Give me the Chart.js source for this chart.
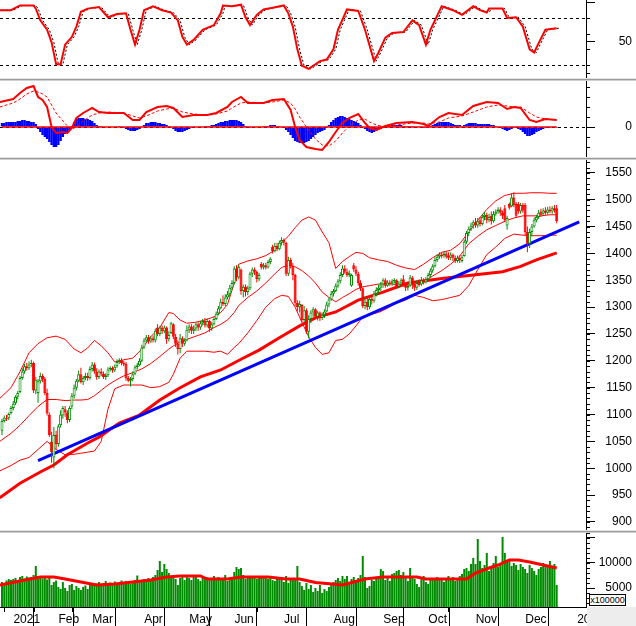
<!DOCTYPE html>
<html>
<head>
<meta charset="utf-8">
<script src="https://cdn.jsdelivr.net/npm/chart.js@4.4.0/dist/chart.umd.min.js"></script>
<style>
  body { margin: 0; background: #fff; }
  #wrap { position: relative; width: 636px; height: 626px; overflow: hidden; background: #fff; }
  canvas { position: absolute; left: 0; }
  .sep { position: absolute; left: 0; width: 636px; height: 3px;
    background: linear-gradient(#e4e4e4 0 1px, #9a9a9a 1px 2px, #d0d0d0 2px 3px); }
  #corner { position: absolute; left: 587px; top: 607px; width: 49px; height: 19px; background: #ededed; }
  #unit { position: absolute; left: 589px; top: 594px; width: 35px; height: 10px; border: 1px solid #000;
    background: #fff; font: 9px "Liberation Sans", Arial, sans-serif; line-height: 10px; text-align: center; }
</style>
</head>
<body>
<div id="wrap">
  <canvas id="stoch" width="636" height="78" style="top:0"></canvas>
  <canvas id="macd" width="636" height="76" style="top:81px"></canvas>
  <canvas id="price" width="636" height="370" style="top:160px"></canvas>
  <canvas id="vol" width="636" height="93" style="top:533px"></canvas>
  <div class="sep" style="top:78px"></div>
  <div class="sep" style="top:157px"></div>
  <div class="sep" style="top:530px"></div>
  <div id="unit">x100000</div>
  <div id="corner"></div>
</div>
<script>
// bar index 0 = first session of 2021, first bar in the data is index -4
const firstBar = -4;

const opens = [1070,1088,1094,1093,
  1103,1112,1121,1133,1142,1168,1180,1190,1186,1194,
  1196,1145,1140,1162,1172,1166,1140,1100,1050,1020,
  1062,1045,1080,1098,1110,1104,1090,1115,1135,1150,
  1163,1175,1160,1168,1172,1168,1185,1193,1180,1170,
  1180,1176,1170,1173,1184,1187,1182,1190,1198,1201,
  1196,1194,1168,1163,1166,1176,1188,1192,1200,1225,
  1238,1244,1236,1242,1238,1262,1250,1262,1255,1262,
  1240,1252,1268,1245,1232,1222,1242,1232,1238,1258,
  1264,1256,1260,1268,1262,1270,1274,1266,1274,1260,
  1268,1278,1288,1298,1310,1306,1318,1324,1336,1345,
  1372,1355,1370,1330,1338,1328,1335,1362,1370,1366,
  1352,1381,1374,1378,1374,1384,1412,1404,1414,1408,
  1420,1425,1420,1362,1388,1376,1360,1308,1300,1304,
  1276,1294,1254,1278,1290,1296,1282,1290,1280,1286,
  1292,1305,1314,1325,1330,1340,1348,1360,1372,1366,
  1360,1340,1378,1370,1362,1345,1335,1302,1310,1300,
  1315,1312,1325,1332,1336,1342,1350,1340,1346,1344,
  1348,1350,1338,1344,1352,1342,1336,1340,1355,1342,
  1336,1345,1342,1350,1346,1352,1360,1368,1376,1388,
  1394,1398,1396,1400,1396,1392,1398,1392,1386,1392,
  1386,1395,1422,1438,1446,1452,1458,1452,1462,1455,
  1468,1472,1462,1470,1460,1474,1478,1482,1476,1484,
  1452,1492,1488,1504,1492,1492,1478,1490,1490,1440,
  1418,1440,1450,1462,1468,1478,1474,1480,1476,1482,
  1478,1484,1484];
const closes = [1088,1094,1092,1101,
  1112,1120,1133,1140,1168,1180,1190,1186,1193,1196,
  1145,1165,1162,1172,1166,1140,1102,1062,1030,1062,
  1045,1078,1100,1112,1104,1090,1112,1135,1150,1163,
  1175,1160,1168,1172,1168,1185,1193,1180,1170,1180,
  1176,1170,1173,1184,1187,1182,1189,1198,1201,1196,
  1193,1168,1163,1166,1175,1188,1192,1200,1225,1238,
  1244,1236,1242,1239,1256,1250,1262,1255,1262,1240,
  1248,1270,1245,1232,1222,1242,1232,1238,1258,1264,
  1256,1260,1268,1262,1270,1274,1266,1274,1260,1268,
  1278,1288,1298,1310,1306,1318,1324,1336,1345,1372,
  1355,1375,1330,1338,1328,1335,1362,1370,1366,1352,
  1360,1374,1378,1374,1384,1390,1404,1414,1408,1420,
  1425,1420,1362,1388,1376,1360,1308,1300,1306,1276,
  1294,1254,1278,1290,1296,1282,1290,1280,1286,1292,
  1305,1314,1325,1330,1340,1348,1360,1372,1366,1360,
  1364,1360,1370,1362,1345,1335,1302,1310,1300,1315,
  1312,1325,1332,1336,1342,1350,1340,1346,1343,1348,
  1351,1338,1344,1350,1342,1336,1340,1355,1342,1336,
  1345,1341,1350,1346,1352,1360,1368,1376,1388,1394,
  1398,1395,1400,1394,1392,1398,1392,1386,1392,1388,
  1393,1422,1438,1446,1452,1458,1452,1460,1455,1468,
  1472,1462,1468,1460,1474,1478,1482,1476,1470,1462,
  1466,1485,1504,1490,1470,1478,1490,1480,1440,1418,
  1440,1450,1462,1468,1476,1472,1480,1476,1482,1478,
  1484,1480,1460];
const highs = [1092,1098,1099,1104,
  1116,1125,1136,1144,1172,1186,1194,1196,1199,1202,
  1199,1170,1166,1178,1176,1170,1148,1104,1068,1077,
  1070,1082,1108,1116,1116,1108,1116,1140,1156,1166,
  1182,1187,1172,1178,1178,1190,1198,1197,1186,1184,
  1186,1180,1177,1188,1190,1190,1193,1203,1205,1205,
  1200,1198,1172,1170,1180,1192,1196,1205,1230,1242,
  1248,1248,1246,1247,1260,1268,1265,1266,1266,1264,
  1255,1273,1270,1250,1238,1250,1246,1242,1266,1268,
  1268,1266,1272,1272,1274,1278,1280,1279,1276,1272,
  1282,1292,1302,1316,1322,1324,1330,1341,1350,1376,
  1378,1379,1372,1342,1342,1340,1366,1374,1374,1368,
  1364,1384,1382,1382,1388,1393,1416,1420,1420,1424,
  1430,1428,1422,1394,1392,1382,1362,1313,1312,1306,
  1302,1298,1285,1294,1300,1298,1293,1292,1290,1296,
  1310,1318,1330,1334,1344,1352,1365,1378,1378,1372,
  1368,1362,1382,1376,1366,1350,1337,1320,1318,1322,
  1322,1330,1337,1342,1347,1354,1354,1350,1350,1352,
  1354,1352,1348,1354,1360,1346,1347,1360,1358,1346,
  1350,1352,1356,1354,1356,1364,1372,1380,1393,1398,
  1402,1402,1404,1404,1402,1402,1400,1396,1396,1396,
  1397,1426,1442,1450,1457,1462,1466,1466,1468,1473,
  1477,1476,1474,1478,1479,1482,1486,1486,1480,1490,
  1470,1495,1512,1514,1496,1496,1494,1494,1494,1450,
  1446,1455,1467,1472,1481,1483,1484,1486,1487,1488,
  1488,1490,1490];
const lows = [1062,1085,1088,1090,
  1100,1108,1118,1128,1140,1165,1176,1182,1183,1188,
  1140,1138,1122,1158,1160,1136,1098,1058,1010,1000,
  1035,1040,1076,1092,1096,1084,1086,1110,1130,1145,
  1160,1158,1155,1164,1163,1165,1180,1176,1165,1166,
  1172,1166,1165,1170,1180,1178,1179,1187,1194,1192,
  1190,1163,1160,1152,1162,1173,1184,1190,1198,1222,
  1235,1232,1233,1234,1234,1246,1246,1250,1252,1232,
  1236,1250,1240,1226,1212,1214,1226,1228,1236,1252,
  1250,1250,1255,1256,1258,1266,1262,1262,1254,1256,
  1266,1276,1285,1296,1302,1302,1314,1320,1332,1342,
  1348,1352,1323,1318,1320,1322,1332,1356,1360,1346,
  1348,1370,1370,1370,1372,1380,1400,1402,1404,1406,
  1415,1415,1358,1358,1372,1350,1302,1292,1290,1272,
  1272,1250,1242,1270,1282,1278,1275,1274,1276,1280,
  1290,1300,1312,1320,1328,1336,1344,1356,1362,1356,
  1356,1338,1366,1358,1340,1330,1298,1296,1294,1296,
  1305,1308,1320,1326,1330,1336,1336,1338,1340,1340,
  1344,1334,1335,1340,1338,1330,1331,1338,1334,1330,
  1332,1338,1340,1342,1344,1350,1356,1364,1374,1384,
  1390,1391,1392,1390,1388,1388,1386,1382,1383,1382,
  1383,1394,1418,1432,1442,1446,1448,1448,1450,1452,
  1462,1456,1458,1454,1457,1470,1474,1470,1464,1458,
  1444,1482,1486,1486,1466,1474,1474,1476,1434,1402,
  1410,1432,1448,1458,1464,1468,1470,1472,1472,1475,
  1474,1476,1456];

// volume, unit x100000
const volumes = [6200,5800,6500,6800,
  6600,6800,7000,6500,7200,7400,6900,7300,7100,7200,7600,9400,6800,7300,6900,7300,6700,7200,5600,6200,
  6500,5200,4800,6200,5000,4400,5600,5800,4600,5400,5000,4600,5200,5500,4800,
  5800,6000,5500,5900,6200,5600,6000,6400,5800,6100,5700,6300,6000,6200,6500,5900,6400,6100,5800,6300,6600,7500,6200,
  6400,6800,6600,7000,6800,7200,7600,8600,10400,8200,9800,8800,8000,7400,7200,6800,5600,7000,7600,6600,
  7400,7000,6600,7200,7600,6800,6400,7000,6800,7200,6600,7000,7400,6800,7200,6600,7000,7600,6400,7000,
  7200,8200,9200,8800,9000,7600,6800,7200,7000,7400,7200,6800,7000,7400,7200,7000,6800,7200,6600,6400,7000,6800,
  6800,6200,7400,6000,6800,6600,7000,9400,6200,5400,4600,6000,4800,5600,4200,5000,4400,5600,4000,4800,4400,5200,
  5800,6200,6600,7000,6400,7400,6800,7400,6000,6800,7200,6400,7000,7600,11400,7200,5000,5400,6600,6400,7000,7400,
  8800,8400,6600,7000,6400,7800,8000,8400,8600,7600,8200,7000,6400,9000,7400,6800,5800,5200,7000,7400,
  6200,5800,6600,7000,6800,7200,7000,6600,6200,6800,7400,6600,7200,6400,6800,7400,7800,8800,9000,8400,9800,
  11000,9800,14800,10400,9000,9600,12000,8400,9400,10000,11400,9200,9800,15200,12000,10400,10800,9400,10000,9600,8600,9800,
  9200,8800,8000,9600,9000,8400,7600,8800,9200,10000,9400,9200,10400,9000,9800,5600];
const volMaIdx = [-5,4,13,19,24,31,38,46,54,62,69,75,84,87,96,102,114,122,128,135,147,157,165,180,184,202,206,212,216,221,225,230,236,242];
const volMaVals = [5600,6400,7200,7200,6800,6200,5600,5800,6200,6600,7200,7400,7400,6800,6800,7200,7200,6800,6800,6100,5600,6800,7200,7200,6800,6800,8000,9000,9600,10600,10600,10200,9600,9000];

// Bollinger bands
const bbIdx = [-5,0,4,8,12,16,20,24,28,31,34,37,40,43,46,50,54,58,62,66,70,72,75,78,82,86,90,93,96,99,
  101,105,109,113,117,120,123,126,129,132,135,138,141,144,147,150,153,156,159,163,
  167,171,175,179,183,187,191,195,199,203,207,211,215,219,223,227,231,235,239,242];
const bbUpper = [1130,1150,1180,1215,1232,1243,1246,1240,1222,1215,1224,1238,1228,1215,1198,1202,1205,1222,1245,1262,
  1290,1288,1276,1270,1272,1276,1282,1290,1305,1345,1380,1386,1390,1396,1406,1420,1432,1448,1462,1468,
  1462,1440,1420,1372,1385,1394,1402,1400,1392,1388,1385,1378,1373,1370,1380,1392,1402,1406,1418,1440,
  1462,1482,1498,1508,1512,1512,1513,1513,1512,1512];
const bbMid = [1050,1065,1080,1098,1115,1128,1128,1126,1127,1127,1128,1135,1145,1155,1163,1172,1178,1185,1195,1208,
  1222,1228,1235,1240,1246,1252,1262,1268,1276,1290,1303,1318,1330,1345,1362,1374,1378,1375,1368,1358,
  1345,1328,1318,1310,1318,1325,1333,1338,1340,1343,1344,1342,1341,1342,1348,1358,1368,1380,1395,1418,
  1432,1444,1452,1460,1466,1470,1470,1470,1472,1472];
const bbLower = [995,1005,1015,1020,1035,1050,1035,1025,1026,1028,1030,1032,1050,1110,1148,1155,1155,1155,1150,1152,
  1160,1175,1205,1218,1218,1218,1216,1218,1212,1225,1232,1252,1275,1300,1316,1322,1320,1300,1272,1245,
  1225,1212,1215,1238,1240,1250,1265,1282,1286,1290,1298,1308,1313,1322,1318,1312,1314,1318,1322,1340,
  1370,1398,1412,1428,1436,1434,1433,1433,1434,1434];

// long moving average and trend line
const maIdx = [-5,4,13,19,25,34,39,48,57,66,75,84,93,102,110,119,128,135,144,154,165,176,192,205,218,226,233,242];
const maVals = [945,972,993,1006,1025,1047,1058,1084,1099,1127,1150,1170,1183,1203,1220,1243,1265,1280,1291,1313,1328,1345,1354,1360,1366,1376,1388,1401];
const trendIdx = [12,252];
const trendVals = [1014,1459];

// stochastic %K and its signal
const kIdx = [-5,0,4,10,11,13,16,18,20,22,24,27,29,31,34,39,43,47,51,53,55,57,59,63,67,71,74,76,78,81,
  85,90,93,94,98,102,104,106,109,112,116,121,123,125,127,129,132,135,137,140,143,145,149,154,157,161,163,166,169,174,
  178,181,184,186,191,196,200,205,208,211,212,218,220,224,227,230,232,234,237,242];
const kVals = [90,90,96,96,92,77,65,49,21,21,46,56,69,88,92,94,81,85,86,65,46,65,90,95,90,87,77,56,46,52,
  65,71,86,96,95,97,81,71,84,91,93,96,86,69,40,19,15,21,25,27,40,65,91,89,65,25,36,55,61,62,
  77,71,46,65,95,90,84,95,90,87,92,92,80,81,69,40,36,48,65,67];
const dIdx = [-4,1,5,11,12,14,17,19,21,23,25,28,30,32,35,40,44,48,52,54,56,58,60,64,68,72,75,77,79,82,
  86,91,94,95,99,103,105,107,110,113,117,122,124,126,128,130,133,136,138,141,144,146,150,155,158,162,164,167,170,175,
  179,182,185,187,192,197,201,206,209,212,213,219,221,225,228,231,233,235,238,243];

// MACD
const macdIdx = [-5,1,4,7,10,12,14,16,18,20,23,25,27,29,32,36,39,43,50,54,57,60,65,69,72,76,81,87,91,96,
  98,102,105,112,116,121,124,126,128,131,135,138,141,144,147,150,154,157,159,162,
  166,171,178,183,185,190,194,200,205,211,216,220,223,226,230,233,237,242];
const macdVals = [25,28,34,39,41,30,27,20,0,-6,-5,-6,-1,9,14,19,15,14,14,7,7,15,20,21,19,10,12,12,14,20,
  25,30,24,24,27,28,17,0,-13,-20,-22,-23,-15,-5,4,9,13,4,-1,-3,1,4,5,3,1,10,14,12,21,25,24,18,20,19,7,5,8,7];
const signalVals = [20,24,28,33,36,35,33,30,22,14,6,1,-2,0,6,12,14,15,14,11,9,11,16,18,19,15,13,12,13,16,
  19,24,25,24,25,27,24,18,10,0,-12,-18,-19,-14,-6,1,7,8,5,2,0,2,4,4,3,5,9,11,15,20,22,21,20,20,14,10,8,7];
const macdHist = [4,4,5,5,
  5,5,5,6,6,7,7,6,6,5,
  5,3,-2,-5,-8,-10,-12,-15,-18,-20,
  -20,-18,-14,-10,-7,-5,-3,1,5,8,
  9,9,9,8,8,7,6,4,2,1,
  1,0,0,0,0,0,0,0,1,0,
  -1,-2,-3,-4,-4,-4,-3,-2,0,2,
  4,4,5,5,5,4,4,3,3,2,
  1,0,-2,-4,-5,-5,-5,-4,-3,-2,
  -1,0,0,0,0,0,1,1,1,2,
  2,3,4,5,5,6,6,7,7,7,
  7,6,5,3,1,0,-1,0,0,0,
  0,0,1,1,1,2,2,2,1,1,
  0,-1,-3,-5,-8,-11,-14,-15,-16,-16,
  -16,-15,-14,-12,-10,-8,-6,-5,-4,-3,
  -1,2,5,7,9,10,11,11,10,9,
  8,7,6,5,4,2,0,-2,-4,-5,
  -6,-5,-4,-3,-2,-1,0,1,1,2,
  2,2,2,2,1,1,1,1,1,0,
  0,0,-1,-1,-1,0,1,2,3,4,
  5,5,5,5,5,4,3,2,2,2,
  1,2,3,4,4,4,4,3,3,3,
  3,3,3,2,2,1,0,-1,-2,-3,
  -4,-3,-2,-1,-1,-2,-3,-5,-7,-9,
  -9,-8,-7,-5,-4,-3,-2,-1,-1,-1,
  0,0,-1];

// axes
const monthIdx = [0,20,35,58,78,98,120,142,164,184,205,227,250];
const monthLabels = ['2021','Feb','Mar','Apr','May','Jun','Jul','Aug','Sep','Oct','Nov','Dec','2022'];
const midMonthIdx = [-3,10,27,46,68,88,109,131,153,174,194,216,238];
const priceTicks = [900,950,1000,1050,1100,1150,1200,1250,1300,1350,1400,1450,1500,1550];
const xMin = -4.88, xMax = 255;

const GREEN = 'rgb(0,140,0)', RED = 'rgb(255,0,0)', BLUE = 'rgb(0,0,255)';

Chart.defaults.font.family = '"Liberation Sans", Arial, sans-serif';
Chart.defaults.font.size = 12;
Chart.defaults.color = '#000';
Chart.defaults.elements.point.radius = 0;
Chart.defaults.elements.line.tension = 0;

const pts = (idx, vals) => idx.map((x, k) => ({ x, y: vals[k] }));
const barX = k => firstBar + k;
const isUp = k => closes[k] >= opens[k];
const lastBar = firstBar + closes.length - 1;
const range = (a, b, s) => { const r = []; for (let v = a; v <= b; v += s) r.push(v); return r; };

// dashed level lines, minor axis ticks
const decor = {
  id: 'decor',
  beforeDatasetsDraw(chart, args, o) {
    const ctx = chart.ctx, a = chart.chartArea, ys = chart.scales.y;
    (o.hlines || []).forEach(v => {
      const py = Math.round(ys.getPixelForValue(v)) + 0.5;
      ctx.save();
      ctx.strokeStyle = '#000'; ctx.lineWidth = 1; ctx.setLineDash([3, 3]);
      ctx.beginPath(); ctx.moveTo(a.left, py); ctx.lineTo(a.right, py); ctx.stroke();
      ctx.restore();
    });
  },
  afterDraw(chart, args, o) {
    const ctx = chart.ctx, a = chart.chartArea, ys = chart.scales.y, xs = chart.scales.x;
    ctx.save();
    ctx.strokeStyle = '#000'; ctx.lineWidth = 1;
    (o.minor || []).forEach(v => {
      const py = Math.round(ys.getPixelForValue(v)) + 0.5;
      if (py < a.top || py > a.bottom) return;
      ctx.beginPath(); ctx.moveTo(a.right, py); ctx.lineTo(a.right + 4, py); ctx.stroke();
    });
    (o.xMinor || []).forEach(v => {
      const px = Math.round(xs.getPixelForValue(v)) + 0.5;
      ctx.beginPath(); ctx.moveTo(px, a.bottom); ctx.lineTo(px, a.bottom + 5); ctx.stroke();
    });
    ctx.restore();
  }
};

function yAxis(min, max, majors, labelled) {
  return {
    position: 'right', min, max, bounds: 'data',
    afterBuildTicks: s => { s.ticks = majors.map(v => ({ value: v })); },
    afterFit: s => { s.width = 46; s.paddingTop = 0; s.paddingBottom = 0; },
    ticks: { autoSkip: false, crossAlign: 'far', padding: 2,
      callback: v => labelled.includes(v) ? String(v) : '' },
    grid: { drawOnChartArea: false, tickLength: 9, color: '#000', tickColor: '#000' },
    border: { color: '#000', width: 1 }
  };
}
const xHidden = () => ({ type: 'linear', min: xMin, max: xMax, bounds: 'data', offset: false, display: false });

function opts(scales, decorOpts) {
  return {
    responsive: false, animation: false, events: [],
    layout: { padding: { left: 0, top: 0, bottom: 0, right: 4 } },
    plugins: { legend: { display: false }, tooltip: { enabled: false }, decor: decorOpts },
    scales
  };
}

// stochastic
new Chart(document.getElementById('stoch'), {
  type: 'line',
  data: { datasets: [
    { data: pts(kIdx, kVals), borderColor: RED, borderWidth: 2, order: 0 },
    { data: pts(dIdx, kVals), borderColor: '#000', borderWidth: 1, borderDash: [2, 2], order: 1 }
  ] },
  options: opts({ x: xHidden(), y: yAxis(3.4, 103, [50, 100], [50]) },
    { hlines: [80, 20], minor: [10, 20, 40, 60, 80] }),
  plugins: [decor]
});

// MACD
new Chart(document.getElementById('macd'), {
  type: 'bar',
  data: { datasets: [
    { type: 'line', data: pts(macdIdx, macdVals), borderColor: RED, borderWidth: 2, order: 0 },
    { type: 'line', data: pts(macdIdx, signalVals), borderColor: RED, borderWidth: 1, borderDash: [3, 2], order: 1 },
    { type: 'line', data: [{ x: firstBar, y: 0 }, { x: lastBar, y: 0 }], borderColor: RED, borderWidth: 1.5, order: 2 },
    { data: macdHist.map((v, k) => ({ x: barX(k), y: v })), backgroundColor: BLUE,
      barThickness: 2.4, grouped: false, inflateAmount: 0, order: 3 }
  ] },
  options: opts({ x: xHidden(), y: yAxis(-30, 46, [0], [0]) },
    { hlines: [0], minor: [-20, -10, 10, 20, 30, 40] }),
  plugins: [decor]
});

// price
new Chart(document.getElementById('price'), {
  type: 'bar',
  data: { datasets: [
    { data: opens.map((o, k) => ({ x: barX(k), y: [Math.min(o, closes[k]), Math.max(o, closes[k])] })),
      backgroundColor: c => isUp(c.dataIndex) ? '#fff' : RED,
      borderColor: c => isUp(c.dataIndex) ? GREEN : RED,
      borderWidth: 1, borderSkipped: false, barThickness: 3, grouped: false, inflateAmount: 0, order: 0 },
    { data: lows.map((l, k) => ({ x: barX(k), y: [l, highs[k]] })),
      backgroundColor: c => isUp(c.dataIndex) ? GREEN : RED,
      borderWidth: 0, barThickness: 1, grouped: false, inflateAmount: 0, order: 1 },
    { type: 'line', data: pts(trendIdx, trendVals), borderColor: BLUE, borderWidth: 3, order: 2 },
    { type: 'line', data: pts(maIdx, maVals), borderColor: RED, borderWidth: 3, order: 3 },
    { type: 'line', data: pts(bbIdx, bbUpper), borderColor: RED, borderWidth: 1, order: 4 },
    { type: 'line', data: pts(bbIdx, bbMid), borderColor: RED, borderWidth: 1, order: 4 },
    { type: 'line', data: pts(bbIdx, bbLower), borderColor: RED, borderWidth: 1, order: 4 }
  ] },
  options: opts({ x: xHidden(), y: yAxis(885, 1574, priceTicks, priceTicks) },
    { minor: range(890, 1570, 10) }),
  plugins: [decor]
});

// volume + date axis
new Chart(document.getElementById('vol'), {
  type: 'bar',
  data: { datasets: [
    { type: 'line', data: pts(volMaIdx, volMaVals), borderColor: RED, borderWidth: 3, order: 0 },
    { data: volumes.map((v, k) => ({ x: barX(k), y: v })), backgroundColor: GREEN,
      barThickness: 2, grouped: false, inflateAmount: 0, order: 1 }
  ] },
  options: opts({
    x: { type: 'linear', min: xMin, max: xMax, bounds: 'data', offset: false, position: 'bottom',
      afterBuildTicks: s => { s.ticks = monthIdx.map(v => ({ value: v })); },
      afterFit: s => { s.height = 19; s.paddingLeft = 0; s.paddingRight = 0; },
      ticks: { autoSkip: false, maxRotation: 0, minRotation: 0, align: 'start', padding: -14,
        callback: (v, i) => '\u2009' + monthLabels[i] },
      grid: { drawOnChartArea: false, tickLength: 19, color: '#000', tickColor: '#000' },
      border: { color: '#000' } },
    y: yAxis(1200, 16000, [5000, 10000, 15000], [5000, 10000])
  }, { minor: range(2000, 16000, 1000), xMinor: midMonthIdx }),
  plugins: [decor]
});
</script>
</body>
</html>
